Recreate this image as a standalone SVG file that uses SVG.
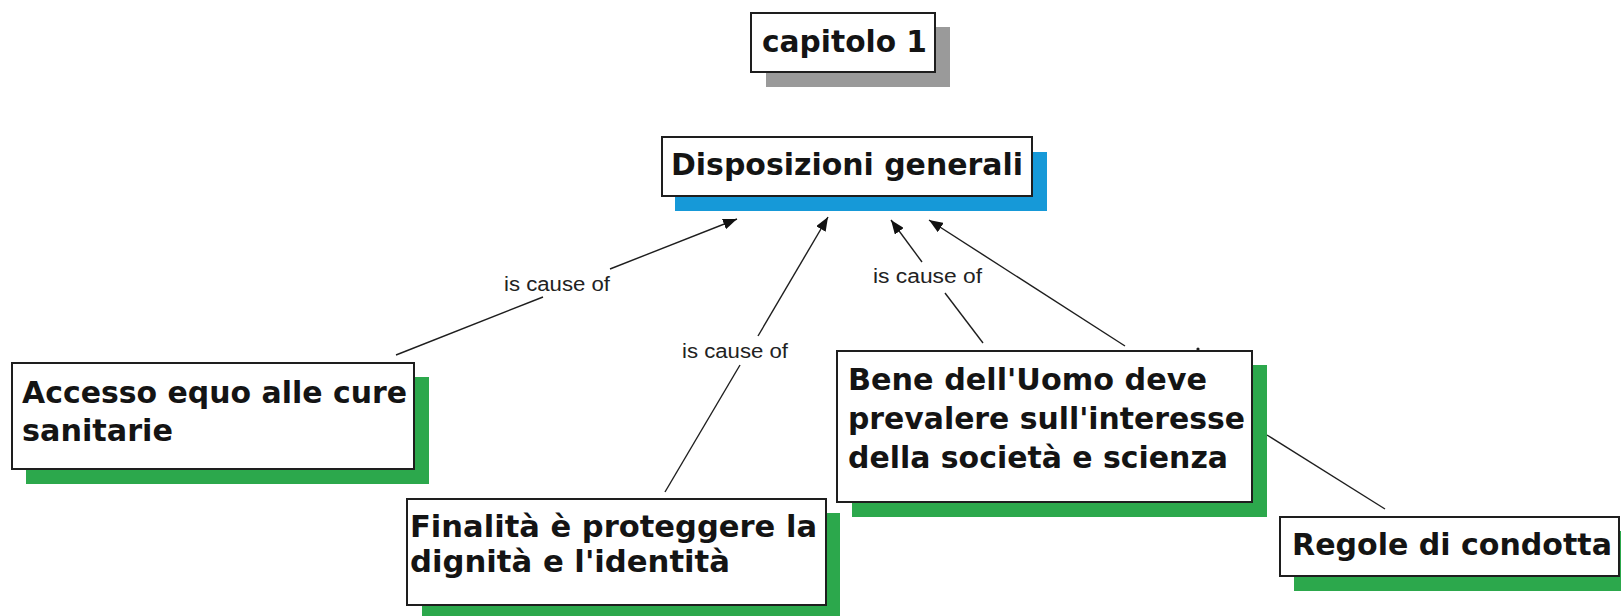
<svg xmlns="http://www.w3.org/2000/svg" width="1621" height="616" viewBox="0 0 1621 616">
<style>
.box{fill:#ffffff;stroke:#1e1e1e;stroke-width:2}
.sh-gray{fill:#9a9a9a}
.sh-blue{fill:#1699d8}
.sh-green{fill:#2ca84c}
.t{font-family:"DejaVu Sans","Liberation Sans",sans-serif;font-weight:bold;font-size:31px;fill:#141414}
.lbl{font-family:"Liberation Sans","DejaVu Sans",sans-serif;font-size:20px;fill:#222}
.ln{fill:none;stroke:#1e1e1e;stroke-width:1.4}
</style>
<defs>
<marker id="arr" markerUnits="userSpaceOnUse" markerWidth="15" markerHeight="11" refX="14" refY="5.5" orient="auto">
<path d="M0,0 L14,5.5 L0,11 z" fill="#111"/>
</marker>
</defs>
<rect width="1621" height="616" fill="#ffffff"/>

<g id="connectors">
<path class="ln" d="M396,355 L543,297"/>
<path class="ln" d="M610,269 L737,219" marker-end="url(#arr)"/>
<text class="lbl" x="504" y="291" textLength="106" lengthAdjust="spacingAndGlyphs">is cause of</text>
<path class="ln" d="M665,492 L740,365"/>
<path class="ln" d="M758,336 L828,217" marker-end="url(#arr)"/>
<text class="lbl" x="682" y="358" textLength="106" lengthAdjust="spacingAndGlyphs">is cause of</text>
<path class="ln" d="M983,343 L945,293"/>
<path class="ln" d="M922,262 L891,220" marker-end="url(#arr)"/>
<text class="lbl" x="873" y="283" textLength="109" lengthAdjust="spacingAndGlyphs">is cause of</text>
<path class="ln" d="M1125,346 L929,220" marker-end="url(#arr)"/>
<path class="ln" d="M1267,435 L1385,509"/>
<circle cx="1198" cy="349" r="1.6" fill="#1e1e1e"/>
</g>

<g id="capitolo">
<rect class="sh-gray" x="766" y="27" width="184" height="60"/>
<rect class="box" x="751" y="13" width="184" height="59"/>
<text class="t" x="762" y="52" textLength="165" lengthAdjust="spacingAndGlyphs">capitolo 1</text>
</g>

<g id="disposizioni">
<rect class="sh-blue" x="675" y="152" width="372" height="59"/>
<rect class="box" x="662" y="137" width="370" height="59"/>
<text class="t" x="671" y="175" textLength="352" lengthAdjust="spacingAndGlyphs">Disposizioni generali</text>
</g>

<g id="accesso">
<rect class="sh-green" x="26" y="377" width="403" height="107"/>
<rect class="box" x="12" y="363" width="402" height="106"/>
<text class="t" x="22" y="403" textLength="385" lengthAdjust="spacingAndGlyphs">Accesso equo alle cure</text>
<text class="t" x="22" y="441" textLength="151" lengthAdjust="spacingAndGlyphs">sanitarie</text>
</g>

<g id="finalita">
<rect class="sh-green" x="422" y="513" width="418" height="110"/>
<rect class="box" x="407" y="499" width="419" height="106"/>
<text class="t" x="410" y="537" textLength="407" lengthAdjust="spacingAndGlyphs">Finalità è proteggere la</text>
<text class="t" x="410" y="572" textLength="320" lengthAdjust="spacingAndGlyphs">dignità e l'identità</text>
</g>

<g id="bene">
<rect class="sh-green" x="852" y="365" width="415" height="152"/>
<rect class="box" x="837" y="351" width="415" height="151"/>
<text class="t" x="848" y="390" textLength="359" lengthAdjust="spacingAndGlyphs">Bene dell'Uomo deve</text>
<text class="t" x="848" y="429" textLength="397" lengthAdjust="spacingAndGlyphs">prevalere sull'interesse</text>
<text class="t" x="848" y="468" textLength="380" lengthAdjust="spacingAndGlyphs">della società e scienza</text>
</g>

<g id="regole">
<rect class="sh-green" x="1294" y="531" width="335" height="60"/>
<rect class="box" x="1280" y="517" width="339" height="59"/>
<text class="t" x="1292" y="555" textLength="320" lengthAdjust="spacingAndGlyphs">Regole di condotta</text>
</g>
</svg>
